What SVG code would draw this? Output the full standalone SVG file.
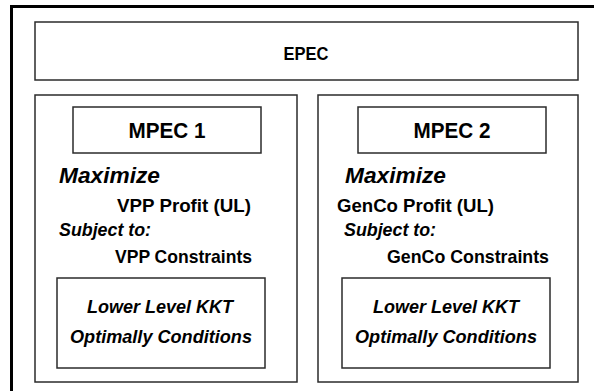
<svg xmlns="http://www.w3.org/2000/svg" width="594" height="391" viewBox="0 0 594 391">
<style>
.box{fill:#fff;stroke:#2b2b2b;stroke-width:1.5}
.t{font-family:"Liberation Sans",Arial,sans-serif;font-weight:bold;font-size:19px;fill:#000}
.c{text-anchor:middle}
.i{font-style:italic}
.big{font-size:22px}
.lo{font-size:18px}
</style>
<rect width="594" height="391" fill="#fff"/>
<g id="frame">
<path d="M11.5,391 V6.5 H594" fill="none" stroke="#000" stroke-width="3"/>
</g>
<g id="epec">
<rect class="box" x="35" y="22" width="543" height="58"/>
<text class="t c" x="306" y="60" font-size="21" textLength="45" lengthAdjust="spacingAndGlyphs">EPEC</text>
</g>
<g id="mpec1">
<rect class="box" x="35" y="95" width="262" height="287"/>
<rect class="box" x="73" y="107" width="188" height="46"/>
<text class="t c big" x="167" y="138" textLength="77" lengthAdjust="spacingAndGlyphs">MPEC 1</text>
<text class="t i big" x="59" y="183" textLength="101" lengthAdjust="spacingAndGlyphs">Maximize</text>
<text class="t" x="117" y="212" textLength="134" lengthAdjust="spacingAndGlyphs">VPP Profit (UL)</text>
<text class="t i" x="59" y="236" textLength="92" lengthAdjust="spacingAndGlyphs">Subject to:</text>
<text class="t" x="115" y="263" textLength="137" lengthAdjust="spacingAndGlyphs">VPP Constraints</text>
<rect class="box" x="57" y="278" width="208" height="90"/>
<text class="t i c lo" x="160" y="313" textLength="146" lengthAdjust="spacingAndGlyphs">Lower Level KKT</text>
<text class="t i c lo" x="161" y="343" textLength="182" lengthAdjust="spacingAndGlyphs">Optimally Conditions</text>
</g>
<g id="mpec2">
<rect class="box" x="318" y="95" width="260" height="287"/>
<rect class="box" x="358" y="107" width="188" height="46"/>
<text class="t c big" x="452" y="138" textLength="77" lengthAdjust="spacingAndGlyphs">MPEC 2</text>
<text class="t i big" x="345" y="183" textLength="101" lengthAdjust="spacingAndGlyphs">Maximize</text>
<text class="t" x="337" y="212" textLength="157" lengthAdjust="spacingAndGlyphs">GenCo Profit (UL)</text>
<text class="t i" x="344" y="236" textLength="92" lengthAdjust="spacingAndGlyphs">Subject to:</text>
<text class="t" x="387" y="263" textLength="162" lengthAdjust="spacingAndGlyphs">GenCo Constraints</text>
<rect class="box" x="342" y="278" width="208" height="90"/>
<text class="t i c lo" x="446" y="313" textLength="146" lengthAdjust="spacingAndGlyphs">Lower Level KKT</text>
<text class="t i c lo" x="446" y="343" textLength="182" lengthAdjust="spacingAndGlyphs">Optimally Conditions</text>
</g>
<g id="connectors"/>
</svg>
